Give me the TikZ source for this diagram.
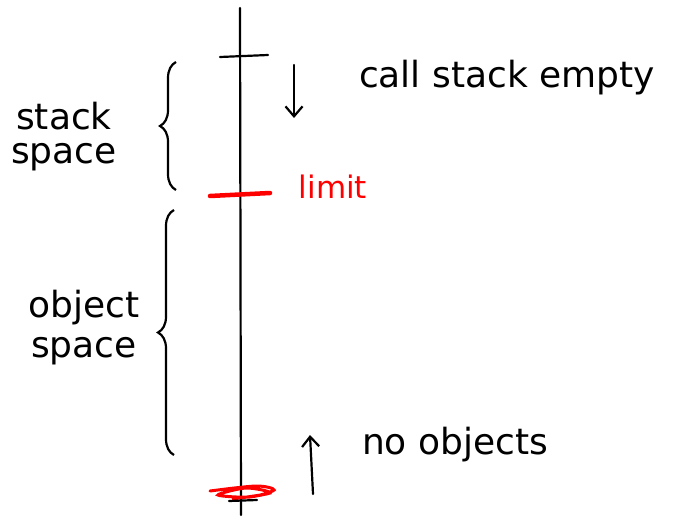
\documentclass[tikz,border=0pt]{standalone}
\usepackage{fontspec}
\setmainfont{DejaVu Sans}
\usepackage{tikz}
\usetikzlibrary{arrows.meta,positioning,decorations.pathreplacing}

\begin{document}
\begin{tikzpicture}[
  x=1pt, y=-1pt,
  font=\fontsize{36}{34}\selectfont,
  % Styles
  ink/.style={draw=black, line width=2.2pt, line cap=round},
  redink/.style={draw=red, line width=4.5pt, line cap=round},
  txt/.style={inner sep=2pt, align=center},
  arr/.style={-{Straight Barb[length=3.5mm,width=6mm]}, line width=2.2pt, line cap=round},
  curly/.style={decorate, decoration={brace, amplitude=16pt}, line width=2.2pt}
]
  \useasboundingbox (0,0) rectangle (682,519);

  % ============================================
  % Memory axis
  % ============================================
  \coordinate (top) at (240,8);
  \coordinate (bottom) at (241,515);
  \draw[ink] (top) -- (bottom);

  % marks on the axis
  \draw[ink] (220,57) -- (268,55);
  \draw[redink] (210,196) -- (270,193);
  \draw[redink, line width=3pt] plot[smooth] coordinates
    {(210,491) (256,486) (274,490) (250,497) (218,495) (246,488) (270,493) (232,499) (262,495)};
  \draw[ink] (229,501) -- (257,500);

  % ============================================
  % Labels
  % ============================================
  \node[txt] (empty) at (507,78) {call stack empty};
  \node[txt, text=red, font=\fontsize{31}{34}\selectfont] (limit) at (333,187) {limit};
  \node[txt] (noobj) at (455,445) {no objects};
  \node[txt] (stack) at (64,137) {stack\\space};
  \node[txt, font=\fontsize{36}{40}\selectfont] (object) at (84,328) {object\\space};

  % ============================================
  % Braces and arrows
  % ============================================
  \draw[curly] (176,190) -- (176,62);
  \draw[curly] (174,455) -- (174,210);

  \coordinate (down0) at (294,65);
  \coordinate (down1) at (294,118);
  \draw[arr] (down0) -- (down1);

  \coordinate (up0) at (313,494);
  \coordinate (up1) at (310,435);
  \draw[arr] (up0) -- (up1);

\end{tikzpicture}
\end{document}
